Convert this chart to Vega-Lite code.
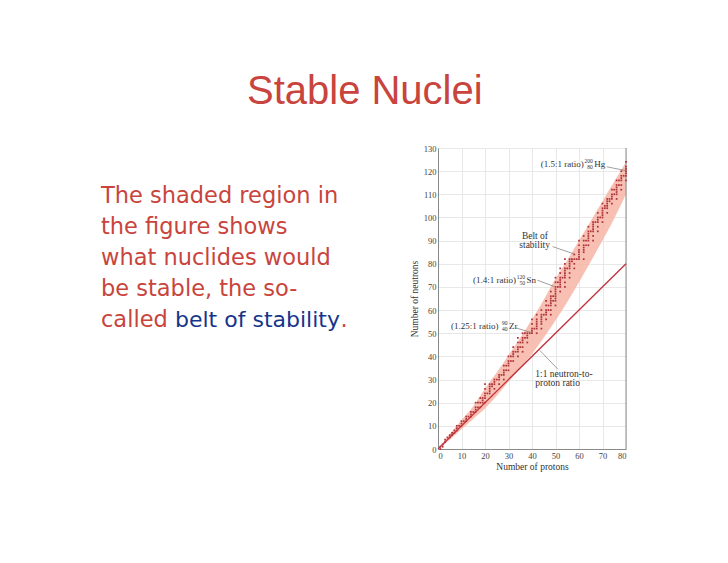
{
  "$schema": "https://vega.github.io/schema/vega-lite/v6.json",
  "background": "white",
  "padding": {"left": 101, "top": 71, "right": 10, "bottom": 10},
  "bounds": "flush",
  "spacing": 87,
  "title": {"text": "Stable Nuclei", "anchor": "middle", "frame": "bounds", "font": "Liberation Sans", "fontSize": 40, "fontWeight": "normal", "color": "#c8443c", "baseline": "alphabetic", "offset": 0.5},
  "config": {
    "view": {"stroke": null},
    "font": "Liberation Serif"
  },
  "resolve": {"scale": {"x": "independent", "y": "independent"}},
  "datasets": {
    "para": [
      {"line": 0, "text": "The shaded region in", "part": "red"},
      {"line": 1, "text": "the figure shows", "part": "red"},
      {"line": 2, "text": "what nuclides would", "part": "red"},
      {"line": 3, "text": "be stable, the so-", "part": "red"},
      {"line": 4, "text": "called", "part": "red"},
      {"line": 4, "text": "belt of stability", "part": "blue"},
      {"line": 4, "text": ".", "part": "dot"}
    ],
    "band": [
      {"z": 0, "n": 0, "n2": 0}, {"z": 5, "n": 4, "n2": 6.5}, {"z": 10, "n": 8.5, "n2": 12.5},
      {"z": 15, "n": 13, "n2": 18.5}, {"z": 20, "n": 17.5, "n2": 26}, {"z": 25, "n": 23, "n2": 33},
      {"z": 30, "n": 29, "n2": 40.5}, {"z": 35, "n": 35, "n2": 48}, {"z": 40, "n": 41, "n2": 56},
      {"z": 45, "n": 48, "n2": 64.5}, {"z": 50, "n": 55.5, "n2": 73.5}, {"z": 55, "n": 63.5, "n2": 81.5},
      {"z": 60, "n": 72, "n2": 90}, {"z": 65, "n": 81, "n2": 98.5}, {"z": 70, "n": 90, "n2": 107},
      {"z": 75, "n": 99.5, "n2": 115.5}, {"z": 80, "n": 110, "n2": 124}
    ],
    "diag": [{"z": 0, "n": 0}, {"z": 80, "n": 80}],
    "frame": [{"z": 80, "n": 0, "n2": 130}],
    "nuc": [
      {"z":1,"n":0},{"z":1,"n":1},{"z":2,"n":1},{"z":2,"n":2},{"z":3,"n":3},{"z":3,"n":4},{"z":4,"n":5},
      {"z":5,"n":5},{"z":5,"n":6},{"z":6,"n":6},{"z":6,"n":7},{"z":7,"n":7},{"z":7,"n":8},
      {"z":8,"n":8},{"z":8,"n":9},{"z":8,"n":10},{"z":9,"n":10},{"z":10,"n":10},{"z":10,"n":11},{"z":10,"n":12},
      {"z":11,"n":12},{"z":12,"n":12},{"z":12,"n":13},{"z":12,"n":14},{"z":13,"n":14},
      {"z":14,"n":14},{"z":14,"n":15},{"z":14,"n":16},{"z":15,"n":16},
      {"z":16,"n":16},{"z":16,"n":17},{"z":16,"n":18},{"z":16,"n":20},{"z":17,"n":18},{"z":17,"n":20},
      {"z":18,"n":18},{"z":18,"n":20},{"z":18,"n":22},{"z":19,"n":20},{"z":19,"n":21},{"z":19,"n":22},
      {"z":20,"n":20},{"z":20,"n":22},{"z":20,"n":23},{"z":20,"n":24},{"z":20,"n":26},{"z":20,"n":28},
      {"z":21,"n":24},{"z":22,"n":24},{"z":22,"n":25},{"z":22,"n":26},{"z":22,"n":27},{"z":22,"n":28},
      {"z":23,"n":27},{"z":23,"n":28},{"z":24,"n":26},{"z":24,"n":28},{"z":24,"n":29},{"z":24,"n":30},
      {"z":25,"n":30},{"z":26,"n":28},{"z":26,"n":30},{"z":26,"n":31},{"z":26,"n":32},{"z":27,"n":32},
      {"z":28,"n":30},{"z":28,"n":32},{"z":28,"n":33},{"z":28,"n":34},{"z":28,"n":36},{"z":29,"n":34},{"z":29,"n":36},
      {"z":30,"n":34},{"z":30,"n":36},{"z":30,"n":37},{"z":30,"n":38},{"z":30,"n":40},{"z":31,"n":38},{"z":31,"n":40},
      {"z":32,"n":38},{"z":32,"n":40},{"z":32,"n":41},{"z":32,"n":42},{"z":32,"n":44},{"z":33,"n":42},
      {"z":34,"n":40},{"z":34,"n":42},{"z":34,"n":43},{"z":34,"n":44},{"z":34,"n":46},{"z":34,"n":48},
      {"z":35,"n":44},{"z":35,"n":46},{"z":36,"n":42},{"z":36,"n":44},{"z":36,"n":46},{"z":36,"n":47},{"z":36,"n":48},{"z":36,"n":50},
      {"z":37,"n":48},{"z":37,"n":50},{"z":38,"n":46},{"z":38,"n":48},{"z":38,"n":49},{"z":38,"n":50},{"z":39,"n":50},
      {"z":40,"n":50},{"z":40,"n":51},{"z":40,"n":52},{"z":40,"n":54},{"z":40,"n":56},{"z":41,"n":52},
      {"z":42,"n":50},{"z":42,"n":52},{"z":42,"n":53},{"z":42,"n":54},{"z":42,"n":55},{"z":42,"n":56},{"z":42,"n":58},
      {"z":44,"n":52},{"z":44,"n":54},{"z":44,"n":55},{"z":44,"n":56},{"z":44,"n":57},{"z":44,"n":58},{"z":44,"n":60},
      {"z":45,"n":58},{"z":46,"n":56},{"z":46,"n":58},{"z":46,"n":59},{"z":46,"n":60},{"z":46,"n":62},{"z":46,"n":64},
      {"z":47,"n":60},{"z":47,"n":62},
      {"z":48,"n":58},{"z":48,"n":60},{"z":48,"n":62},{"z":48,"n":63},{"z":48,"n":64},{"z":48,"n":65},{"z":48,"n":66},{"z":48,"n":68},
      {"z":49,"n":64},{"z":49,"n":66},
      {"z":50,"n":62},{"z":50,"n":64},{"z":50,"n":65},{"z":50,"n":66},{"z":50,"n":67},{"z":50,"n":68},{"z":50,"n":69},{"z":50,"n":70},{"z":50,"n":72},{"z":50,"n":74},
      {"z":51,"n":70},{"z":51,"n":72},
      {"z":52,"n":68},{"z":52,"n":70},{"z":52,"n":71},{"z":52,"n":72},{"z":52,"n":73},{"z":52,"n":74},{"z":52,"n":76},{"z":52,"n":78},
      {"z":53,"n":74},
      {"z":54,"n":70},{"z":54,"n":72},{"z":54,"n":74},{"z":54,"n":75},{"z":54,"n":76},{"z":54,"n":77},{"z":54,"n":78},{"z":54,"n":80},{"z":54,"n":82},
      {"z":55,"n":78},
      {"z":56,"n":74},{"z":56,"n":76},{"z":56,"n":78},{"z":56,"n":79},{"z":56,"n":80},{"z":56,"n":81},{"z":56,"n":82},
      {"z":57,"n":81},{"z":57,"n":82},{"z":58,"n":78},{"z":58,"n":80},{"z":58,"n":82},{"z":58,"n":84},{"z":59,"n":82},
      {"z":60,"n":82},{"z":60,"n":83},{"z":60,"n":84},{"z":60,"n":85},{"z":60,"n":86},{"z":60,"n":88},{"z":60,"n":90},
      {"z":62,"n":82},{"z":62,"n":85},{"z":62,"n":86},{"z":62,"n":87},{"z":62,"n":88},{"z":62,"n":90},{"z":62,"n":92},
      {"z":63,"n":88},{"z":63,"n":90},
      {"z":64,"n":88},{"z":64,"n":90},{"z":64,"n":91},{"z":64,"n":92},{"z":64,"n":93},{"z":64,"n":94},{"z":64,"n":96},
      {"z":65,"n":94},
      {"z":66,"n":90},{"z":66,"n":92},{"z":66,"n":94},{"z":66,"n":95},{"z":66,"n":96},{"z":66,"n":97},{"z":66,"n":98},
      {"z":67,"n":98},
      {"z":68,"n":94},{"z":68,"n":96},{"z":68,"n":98},{"z":68,"n":99},{"z":68,"n":100},{"z":68,"n":102},
      {"z":69,"n":100},
      {"z":70,"n":98},{"z":70,"n":100},{"z":70,"n":101},{"z":70,"n":102},{"z":70,"n":103},{"z":70,"n":104},{"z":70,"n":106},
      {"z":71,"n":104},{"z":71,"n":105},
      {"z":72,"n":102},{"z":72,"n":104},{"z":72,"n":105},{"z":72,"n":106},{"z":72,"n":107},{"z":72,"n":108},
      {"z":73,"n":107},{"z":73,"n":108},
      {"z":74,"n":106},{"z":74,"n":108},{"z":74,"n":109},{"z":74,"n":110},{"z":74,"n":112},
      {"z":75,"n":110},{"z":75,"n":112},
      {"z":76,"n":108},{"z":76,"n":110},{"z":76,"n":111},{"z":76,"n":112},{"z":76,"n":113},{"z":76,"n":114},{"z":76,"n":116},
      {"z":77,"n":114},{"z":77,"n":116},
      {"z":78,"n":112},{"z":78,"n":114},{"z":78,"n":116},{"z":78,"n":117},{"z":78,"n":118},{"z":78,"n":120},
      {"z":79,"n":118},
      {"z":80,"n":116},{"z":80,"n":118},{"z":80,"n":119},{"z":80,"n":120},{"z":80,"n":121},{"z":80,"n":122},{"z":80,"n":124}
    ],
    "iso": [
      {"z": 66.5, "n": 123.3, "ratio": "(1.5:1 ratio)", "a": "200", "zz": "80", "sym": "Hg"},
      {"z": 37.7, "n": 73, "ratio": "(1.4:1 ratio)", "a": "120", "zz": "50", "sym": "Sn"},
      {"z": 30.2, "n": 53.3, "ratio": "(1.25:1 ratio)", "a": "90", "zz": "40", "sym": "Zr"}
    ],
    "notes": [
      {"z": 35.7, "n": 92.1, "text": "Belt of"},
      {"z": 34.6, "n": 88.1, "text": "stability"},
      {"z": 41.4, "n": 32.4, "text": "1:1 neutron-to-"},
      {"z": 41.4, "n": 28.4, "text": "proton ratio"}
    ],
    "pointers": [
      {"z": 71.8, "n": 121.9, "z2": 79.6, "n2": 120.3},
      {"z": 48.8, "n": 87.4, "z2": 58, "n2": 84.2},
      {"z": 42.3, "n": 72.9, "z2": 49.4, "n2": 70.2},
      {"z": 33.2, "n": 52.3, "z2": 40, "n2": 50.2},
      {"z": 50.9, "n": 34.6, "z2": 43.3, "n2": 42.6}
    ]
  },
  "hconcat": [
    {
      "width": 250,
      "height": 301,
      "data": {"name": "para"},
      "encoding": {
        "x": {"value": 0},
        "y": {"field": "line", "type": "quantitative", "scale": {"domain": [-1.774, 7.935], "reverse": true, "nice": false, "zero": false}, "axis": null},
        "text": {"field": "text"}
      },
      "layer": [
        {
          "transform": [{"filter": "datum.part == 'red'"}],
          "mark": {"type": "text", "align": "left", "baseline": "alphabetic", "font": "DejaVu Sans", "fontSize": 22.5, "color": "#c8443c"}
        },
        {
          "transform": [{"filter": "datum.part == 'blue'"}],
          "mark": {"type": "text", "align": "left", "baseline": "alphabetic", "font": "DejaVu Sans", "fontSize": 22, "color": "#15358a", "dx": 74}
        },
        {
          "transform": [{"filter": "datum.part == 'dot'"}],
          "mark": {"type": "text", "align": "left", "baseline": "alphabetic", "font": "DejaVu Sans", "fontSize": 22.5, "color": "#c8443c", "dx": 239.5}
        }
      ]
    },
    {
      "width": 188,
      "height": 301,
      "encoding": {
        "x": {"field": "z", "type": "quantitative", "title": "Number of protons",
          "scale": {"domain": [0, 80], "nice": false, "zero": false},
          "axis": {"values": [0, 10, 20, 30, 40, 50, 60, 70, 80], "labelOverlap": false, "grid": true, "gridColor": "#e2e2e2", "gridWidth": 0.8, "domainColor": "#8a8a8a", "domainWidth": 1, "ticks": false, "labelFont": "Liberation Serif", "labelFontSize": 8.5, "labelColor": "#444", "labelPadding": 2, "titleFont": "Liberation Serif", "titleFontSize": 9.5, "titleFontWeight": "normal", "titleColor": "#333", "titlePadding": 2}},
        "y": {"field": "n", "type": "quantitative", "title": "Number of neutrons",
          "scale": {"domain": [0, 130], "nice": false, "zero": false},
          "axis": {"values": [0, 10, 20, 30, 40, 50, 60, 70, 80, 90, 100, 110, 120, 130], "labelOverlap": false, "grid": true, "gridColor": "#e2e2e2", "gridWidth": 0.8, "domainColor": "#8a8a8a", "domainWidth": 1, "ticks": false, "labelFont": "Liberation Serif", "labelFontSize": 8.5, "labelColor": "#444", "labelPadding": 2, "titleFont": "Liberation Serif", "titleFontSize": 9.5, "titleFontWeight": "normal", "titleColor": "#333", "titlePadding": 4}}
      },
      "layer": [
        {
          "data": {"name": "band"},
          "mark": {"type": "area", "color": "#f7b5a5", "opacity": 0.85, "interpolate": "monotone"},
          "encoding": {"y2": {"field": "n2"}}
        },
        {
          "data": {"name": "frame"},
          "mark": {"type": "rule", "color": "#8a8a8a", "strokeWidth": 1},
          "encoding": {"y2": {"field": "n2"}}
        },
        {
          "data": {"name": "nuc"},
          "mark": {"type": "point", "shape": "square", "filled": true, "size": 3, "color": "#b0323a", "opacity": 1}
        },
        {
          "data": {"name": "diag"},
          "mark": {"type": "line", "color": "#c0323c", "strokeWidth": 1.3}
        },
        {
          "data": {"name": "pointers"},
          "mark": {"type": "rule", "color": "#777", "strokeWidth": 0.7},
          "encoding": {"x2": {"field": "z2"}, "y2": {"field": "n2"}}
        },
        {
          "data": {"name": "iso"},
          "mark": {"type": "text", "align": "right", "baseline": "middle", "dx": -10.5, "font": "Liberation Serif", "fontSize": 9, "color": "#333"},
          "encoding": {"text": {"field": "ratio"}}
        },
        {
          "data": {"name": "iso"},
          "mark": {"type": "text", "align": "right", "baseline": "middle", "dx": -1.5, "dy": -3, "font": "Liberation Serif", "fontSize": 5.5, "color": "#333"},
          "encoding": {"text": {"field": "a"}}
        },
        {
          "data": {"name": "iso"},
          "mark": {"type": "text", "align": "right", "baseline": "middle", "dx": -1.5, "dy": 3, "font": "Liberation Serif", "fontSize": 5.5, "color": "#333"},
          "encoding": {"text": {"field": "zz"}}
        },
        {
          "data": {"name": "iso"},
          "mark": {"type": "text", "align": "left", "baseline": "middle", "font": "Liberation Serif", "fontSize": 9, "color": "#333"},
          "encoding": {"text": {"field": "sym"}}
        },
        {
          "data": {"name": "notes"},
          "mark": {"type": "text", "align": "left", "baseline": "middle", "font": "Liberation Serif", "fontSize": 9.5, "color": "#333"},
          "encoding": {"text": {"field": "text"}}
        }
      ]
    }
  ]
}
